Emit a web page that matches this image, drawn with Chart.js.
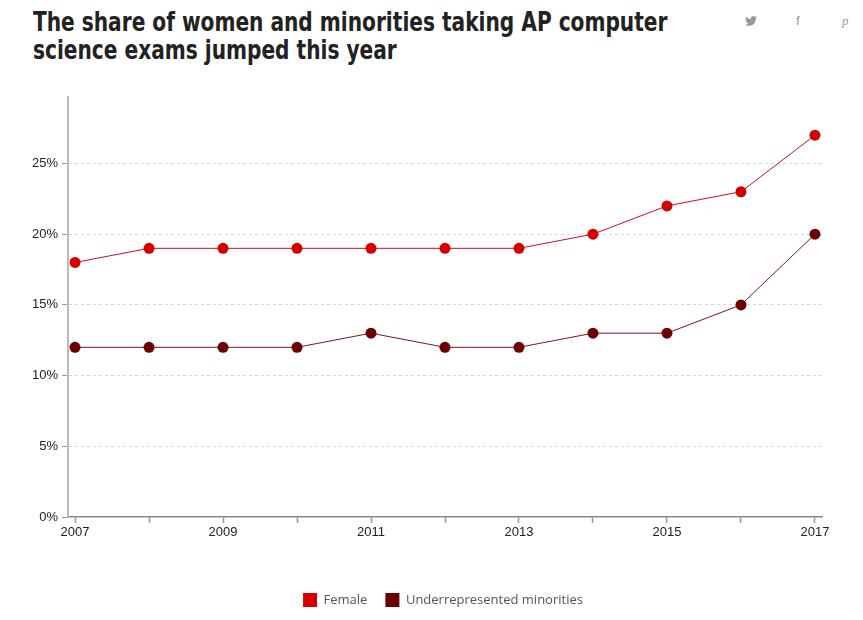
<!DOCTYPE html>
<html>
<head>
<meta charset="utf-8">
<script src="https://cdn.jsdelivr.net/npm/chart.js@4.4.0/dist/chart.umd.min.js"></script>
<style>
  html, body { margin: 0; padding: 0; background: #fff; }
  #wrap { position: relative; width: 863px; height: 620px; overflow: hidden; }
  #title {
    position: absolute; left: 33px; top: 8px; white-space: nowrap;
    font-family: "DejaVu Sans", sans-serif;
    font-weight: bold; font-size: 26px; line-height: 28px; color: #222;
    transform: scaleX(0.775); transform-origin: 0 0;
  }
  #share { position: absolute; top: 13px; left: 0; width: 863px; height: 20px; }
  #share span {
    position: absolute; color: #999; font-family: "Liberation Serif", serif; font-size: 13px;
  }
  #chart { position: absolute; left: 0; top: 0; }
</style>
</head>
<body>
<div id="wrap">
  <div id="title">The share of women and minorities taking AP computer<br>science exams jumped this year</div>
  <div id="share">
    <svg style="position:absolute;left:745px;top:3px" width="12" height="11" viewBox="0 0 24 22">
      <path fill="#999" d="M23.953 2.57a10 10 0 01-2.825.775 4.958 4.958 0 002.163-2.723c-.951.555-2.005.959-3.127 1.184a4.92 4.92 0 00-8.384 4.482C7.69 6.095 4.067 4.13 1.64 1.162a4.822 4.822 0 00-.666 2.475c0 1.71.87 3.213 2.188 4.096a4.904 4.904 0 01-2.228-.616v.06a4.923 4.923 0 003.946 4.827 4.996 4.996 0 01-2.212.085 4.936 4.936 0 004.604 3.417 9.867 9.867 0 01-6.102 2.105c-.39 0-.779-.023-1.170-.067a13.995 13.995 0 007.557 2.209c9.053 0 13.998-7.496 13.998-13.985 0-.21 0-.42-.015-.63A9.935 9.935 0 0024 2.59z"/>
    </svg>
    <span style="left:796px;top:0px;font-family:'Liberation Sans',sans-serif;">f</span>
    <span style="left:842px;top:0px;font-style:italic;">p</span>
  </div>
  <canvas id="chart" width="863" height="620"></canvas>
</div>
<script>
// Chart data
const years = [2007, 2008, 2009, 2010, 2011, 2012, 2013, 2014, 2015, 2016, 2017];
const female = [18, 19, 19, 19, 19, 19, 19, 20, 22, 23, 27];
const minorities = [12, 12, 12, 12, 13, 12, 12, 13, 13, 15, 20];
const yTicks = [0, 5, 10, 15, 20, 25];
const seriesNames = ['Female', 'Underrepresented minorities'];

// Colours
const femaleDot = '#d40000';
const femaleLine = '#c8101c';
const minorityDot = '#6b0000';
const minorityLine = '#7a1616';

const toPoints = (vals) => vals.map((v, i) => ({ x: years[i], y: v }));

const ctx = document.getElementById('chart').getContext('2d');

new Chart(ctx, {
  type: 'line',
  data: {
    datasets: [
      {
        label: seriesNames[0],
        data: toPoints(female),
        borderColor: femaleLine,
        backgroundColor: femaleDot,
        borderWidth: 1,
        pointRadius: 5.5,
        pointHoverRadius: 5.5,
        pointBorderWidth: 0,
        pointBackgroundColor: femaleDot,
        tension: 0
      },
      {
        label: seriesNames[1],
        data: toPoints(minorities),
        borderColor: minorityLine,
        backgroundColor: minorityDot,
        borderWidth: 1,
        pointRadius: 5.5,
        pointHoverRadius: 5.5,
        pointBorderWidth: 0,
        pointBackgroundColor: minorityDot,
        tension: 0
      }
    ]
  },
  options: {
    responsive: false,
    animation: false,
    layout: { padding: { top: 97, right: 0, left: 23, bottom: 3 } },
    scales: {
      x: {
        type: 'linear',
        min: years[0] - 0.095,
        max: years[years.length - 1] + 0.095,
        afterBuildTicks: (scale) => { scale.ticks = years.map(v => ({ value: v })); },
        afterFit: (scale) => { scale.height = 58; },
        grid: {
          display: true,
          drawOnChartArea: false,
          drawTicks: true,
          tickLength: 6,
          tickColor: '#999',
          tickWidth: 1.5
        },
        border: { display: true, color: '#888', width: 1.5 },
        ticks: {
          padding: 2,
          maxRotation: 0,
          autoSkip: false,
          color: '#222',
          font: { family: 'Liberation Sans, Arial, sans-serif', size: 13 },
          callback: (v) => ((v - years[0]) % 2 === 0 ? String(v) : '')
        }
      },
      y: {
        min: 0,
        max: 29.7,
        afterBuildTicks: (scale) => { scale.ticks = yTicks.map(v => ({ value: v })); },
        afterFit: (scale) => { scale.width = 45; },
        grid: {
          display: true,
          drawOnChartArea: true,
          color: (c) => (c.tick && c.tick.value === 0 ? 'rgba(0,0,0,0)' : '#d4d4d4'),
          lineWidth: 1,
          tickLength: 6,
          tickColor: '#999',
          tickWidth: 1
        },
        border: { display: true, color: '#bbb', width: 2, dash: [3, 3] },
        ticks: {
          padding: 4,
          color: '#222',
          font: { family: 'Liberation Sans, Arial, sans-serif', size: 13 },
          callback: (v) => v + '%'
        }
      },
      // empty right-hand spacer so the legend centres under the plot
      yRight: {
        position: 'right',
        display: true,
        afterFit: (scale) => { scale.width = 41; },
        grid: { display: false },
        border: { display: false },
        ticks: { display: false }
      }
    },
    plugins: {
      title: { display: false },
      tooltip: { enabled: false },
      legend: {
        display: true,
        position: 'bottom',
        labels: {
          boxWidth: 14,
          boxHeight: 14,
          padding: 18,
          color: '#555',
          font: { family: 'Open Sans, sans-serif', size: 13 },
          generateLabels: (chart) => {
            const items = Chart.defaults.plugins.legend.labels.generateLabels(chart);
            items.forEach((it, i) => {
              const c = i === 0 ? femaleDot : minorityDot;
              it.fillStyle = c;
              it.strokeStyle = c;
              it.lineWidth = 0;
            });
            return items;
          }
        }
      }
    }
  }
});
</script>
</body>
</html>
